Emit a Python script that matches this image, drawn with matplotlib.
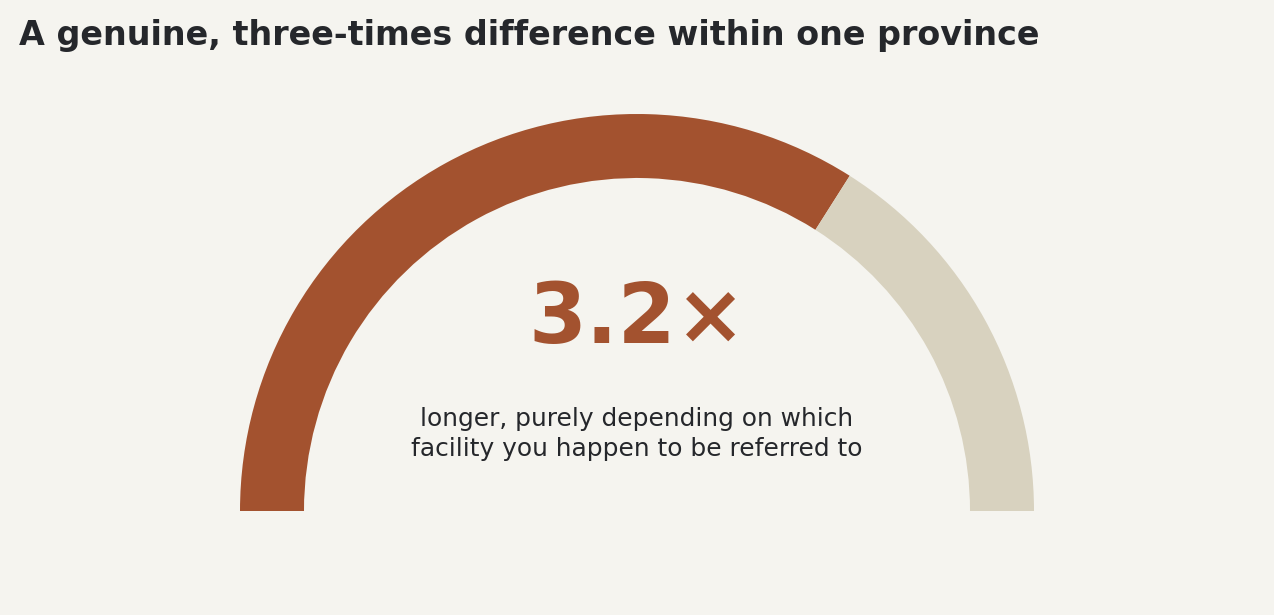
import matplotlib.pyplot as plt
from matplotlib.patches import Wedge

title = "A genuine, three-times difference within one province"
big_label = "3.2×"
sub_label = "longer, purely depending on which\nfacility you happen to be referred to"

# gauge shares (filled part vs. remainder)
segment_names = ["filled", "remainder"]
segment_values = [68, 32]
segment_colors = ["#A3522F", "#D8D2BF"]

BG = "#F5F4EF"
W, H = 1274, 615

fig = plt.figure(figsize=(W / 100, H / 100), dpi=100, facecolor=BG)
ax = fig.add_axes([0, 0, 1, 1])
ax.set_xlim(0, W)
ax.set_ylim(0, H)
ax.axis("off")
ax.set_facecolor(BG)

cx, cy = 637, H - 511
r_out, r_in = 397, 333

total = sum(segment_values)
start = 180.0
for val, col in zip(segment_values, segment_colors):
    span = 180.0 * val / total
    ax.add_patch(Wedge((cx, cy), r_out, start - span, start,
                       width=r_out - r_in, facecolor=col, edgecolor="none"))
    start -= span

ax.text(19, H - 35, title, ha="left", va="center", fontsize=24,
        fontweight="bold", color="#25272B")
ax.text(cx, H - 319, big_label, ha="center", va="center", fontsize=60,
        fontweight="bold", color=segment_colors[0])
ax.text(cx, H - 434, sub_label, ha="center", va="center", fontsize=17.9,
        color="#25272B", linespacing=1.32)

fig.savefig("out.png", dpi=100, facecolor=BG)
